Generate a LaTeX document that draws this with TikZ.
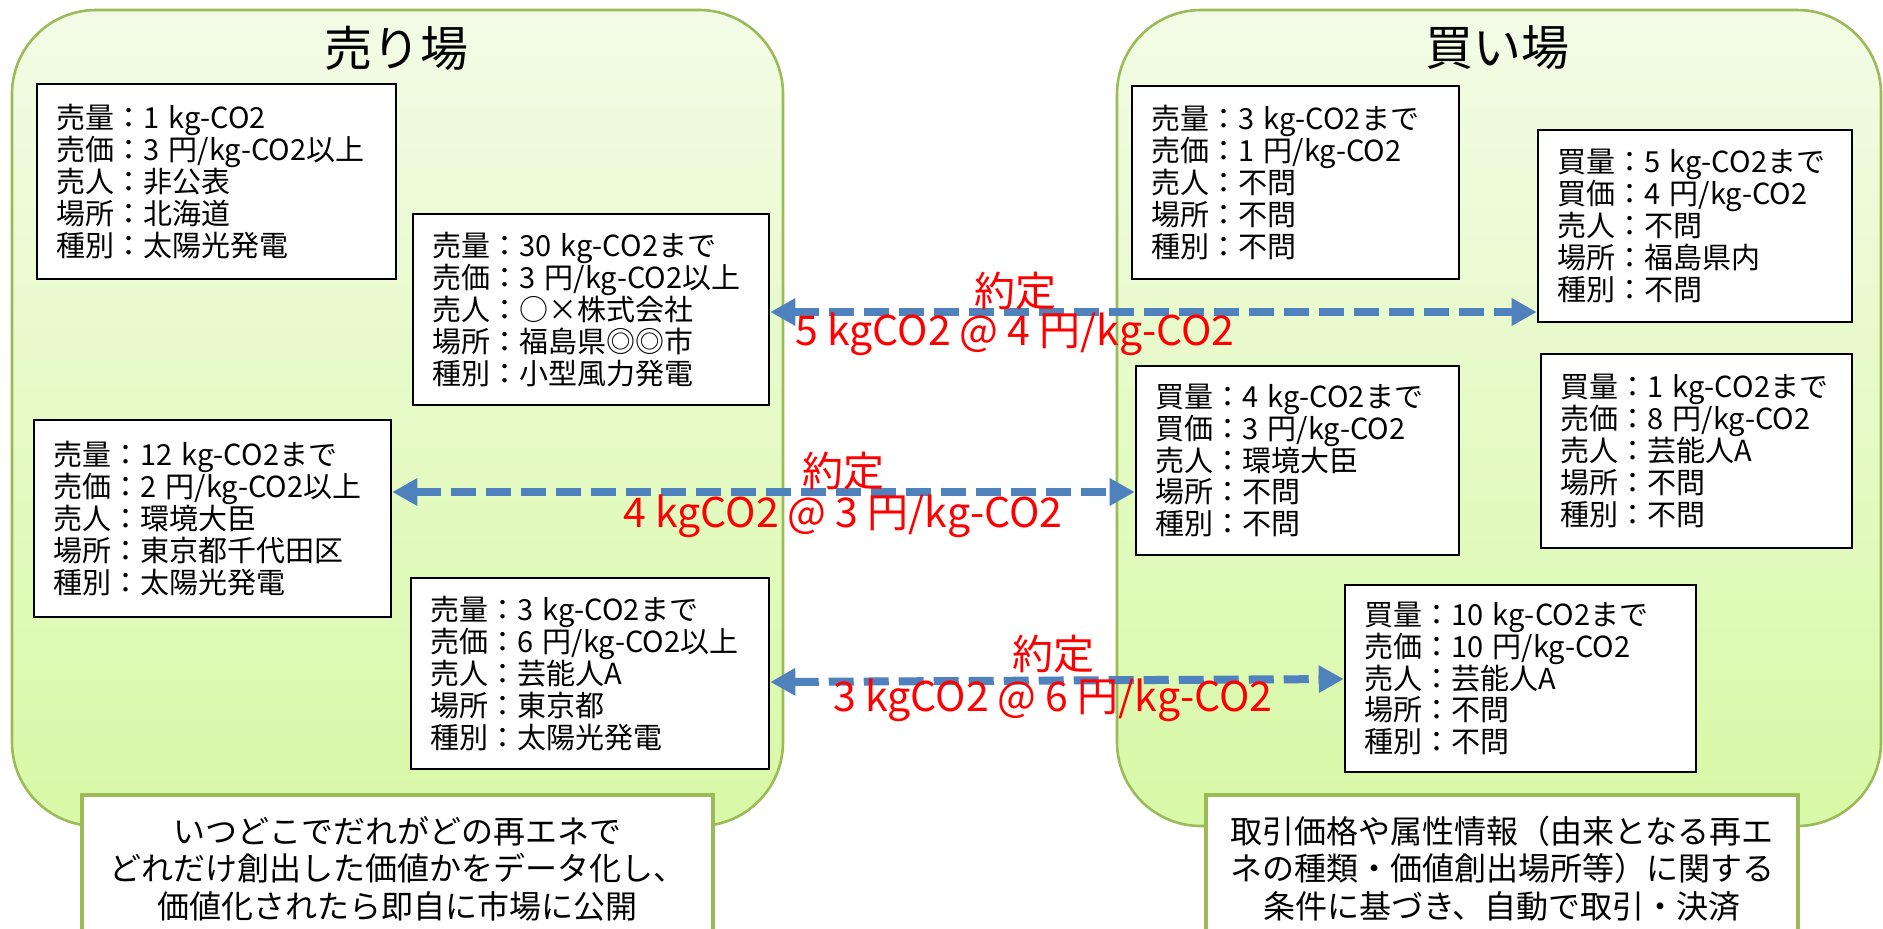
\documentclass[tikz,border=0pt]{standalone}
\usepackage{fontspec}
\setmainfont{Noto Sans CJK JP}
\usetikzlibrary{arrows.meta}
\definecolor{panelline}{RGB}{155,187,89}
\definecolor{paneltop}{RGB}{243,251,230}
\definecolor{panelbot}{RGB}{216,249,166}
\definecolor{dealblue}{RGB}{79,129,189}
\newcommand\pxu{0.5pt}
\newcommand\mkbox[6]{%
  \node[infobox, minimum width={(#4-#2)*\pxu}, minimum height={(#5-#3)*\pxu},
        text width={(#4-#2-38)*\pxu}] (#1) at ({(#2+#4)/2},{(#3+#5)/2}) {#6};}
\begin{document}
\begin{tikzpicture}[x=0.5pt,y=-0.5pt,
  panel/.style={draw=panelline, line width=1.3pt, rounded corners=42pt,
    top color=paneltop, bottom color=panelbot, inner sep=0pt},
  title/.style={font=\fontsize{24}{28}\selectfont, inner sep=0pt},
  infobox/.style={draw=black, line width=1.3pt, fill=white, align=left,
    inner xsep=9.5pt, inner ysep=0pt, font=\fontsize{14.5}{15.9}\selectfont},
  notebox/.style={draw=panelline, line width=2pt, fill=white, align=center,
    inner sep=0pt, font=\fontsize{16}{18.75}\selectfont},
  deal/.style={draw=dealblue, line width=4pt, dash pattern=on 12.5pt off 5pt,
    {Triangle[length=12.5pt,width=13pt]}-{Triangle[length=12.5pt,width=13pt]}},
  deallabel/.style={text=red, font=\fontsize{20.5}{24}\selectfont, inner sep=0pt}
]
\clip (0,0) rectangle (1883,928);
\fill[white] (0,0) rectangle (1883,928);
% panels
\node[panel, minimum width={771*\pxu}, minimum height={816*\pxu}] (sell) at (397.5,418) {};
\node[panel, minimum width={764*\pxu}, minimum height={816*\pxu}] (buy) at (1499,418) {};
\node[title] (selltitle) at (396,48) {売り場};
\node[title] (buytitle) at (1497,48) {買い場};
% sell boxes
\mkbox{B1}{37}{84}{396}{279}{売量：1 kg-CO2\\売価：3 円/kg-CO2以上\\売人：非公表\\場所：北海道\\種別：太陽光発電}
\mkbox{B2}{413}{214}{769}{405}{売量：30 kg-CO2まで\\売価：3 円/kg-CO2以上\\売人：○×株式会社\\場所：福島県◎◎市\\種別：小型風力発電}
\mkbox{B3}{34}{420}{391}{617}{売量：12 kg-CO2まで\\売価：2 円/kg-CO2以上\\売人：環境大臣\\場所：東京都千代田区\\種別：太陽光発電}
\mkbox{B4}{411}{578}{769}{769}{売量：3 kg-CO2まで\\売価：6 円/kg-CO2以上\\売人：芸能人A\\場所：東京都\\種別：太陽光発電}
% buy boxes
\mkbox{R1}{1132}{86}{1459}{279}{売量：3 kg-CO2まで\\売価：1 円/kg-CO2\\売人：不問\\場所：不問\\種別：不問}
\mkbox{R2}{1538}{130}{1852}{322}{買量：5 kg-CO2まで\\買価：4 円/kg-CO2\\売人：不問\\場所：福島県内\\種別：不問}
\mkbox{R3}{1136}{366}{1459}{555}{買量：4 kg-CO2まで\\買価：3 円/kg-CO2\\売人：環境大臣\\場所：不問\\種別：不問}
\mkbox{R4}{1541}{354}{1852}{548}{買量：1 kg-CO2まで\\売価：8 円/kg-CO2\\売人：芸能人A\\場所：不問\\種別：不問}
\mkbox{R5}{1345}{585}{1696}{772}{買量：10 kg-CO2まで\\売価：10 円/kg-CO2\\売人：芸能人A\\場所：不問\\種別：不問}
% notes
\node[notebox, minimum width={631*\pxu}, minimum height={147*\pxu}, anchor=north] (noteL) at (397.5,793)
  {いつどこでだれがどの再エネで\\どれだけ創出した価値かをデータ化し、\\価値化されたら即自に市場に公開};
\node[notebox, minimum width={592*\pxu}, minimum height={147*\pxu}, anchor=north] (noteR) at (1502,793)
  {取引価格や属性情報（由来となる再エ\\ネの種類・価値創出場所等）に関する\\条件に基づき、自動で取引・決済};
% deals
\draw[deal] (B2.east |- 0,312) -- (R2.west |- 0,312);
\draw[deal] (B3.east |- 0,492) -- (R3.west |- 0,492);
\draw[deal] (B4.east |- 0,682) -- (R5.west |- 0,679);
\node[deallabel] (d1a) at (1015,291) {約定};
\node[deallabel] (d1b) at (1015,334) {5 kgCO2 @ 4 円/kg-CO2};
\node[deallabel] (d2a) at (843,471) {約定};
\node[deallabel] (d2b) at (843,516) {4 kgCO2 @ 3 円/kg-CO2};
\node[deallabel] (d3a) at (1053,654) {約定};
\node[deallabel] (d3b) at (1053,700) {3 kgCO2 @ 6 円/kg-CO2};
\end{tikzpicture}
\end{document}
